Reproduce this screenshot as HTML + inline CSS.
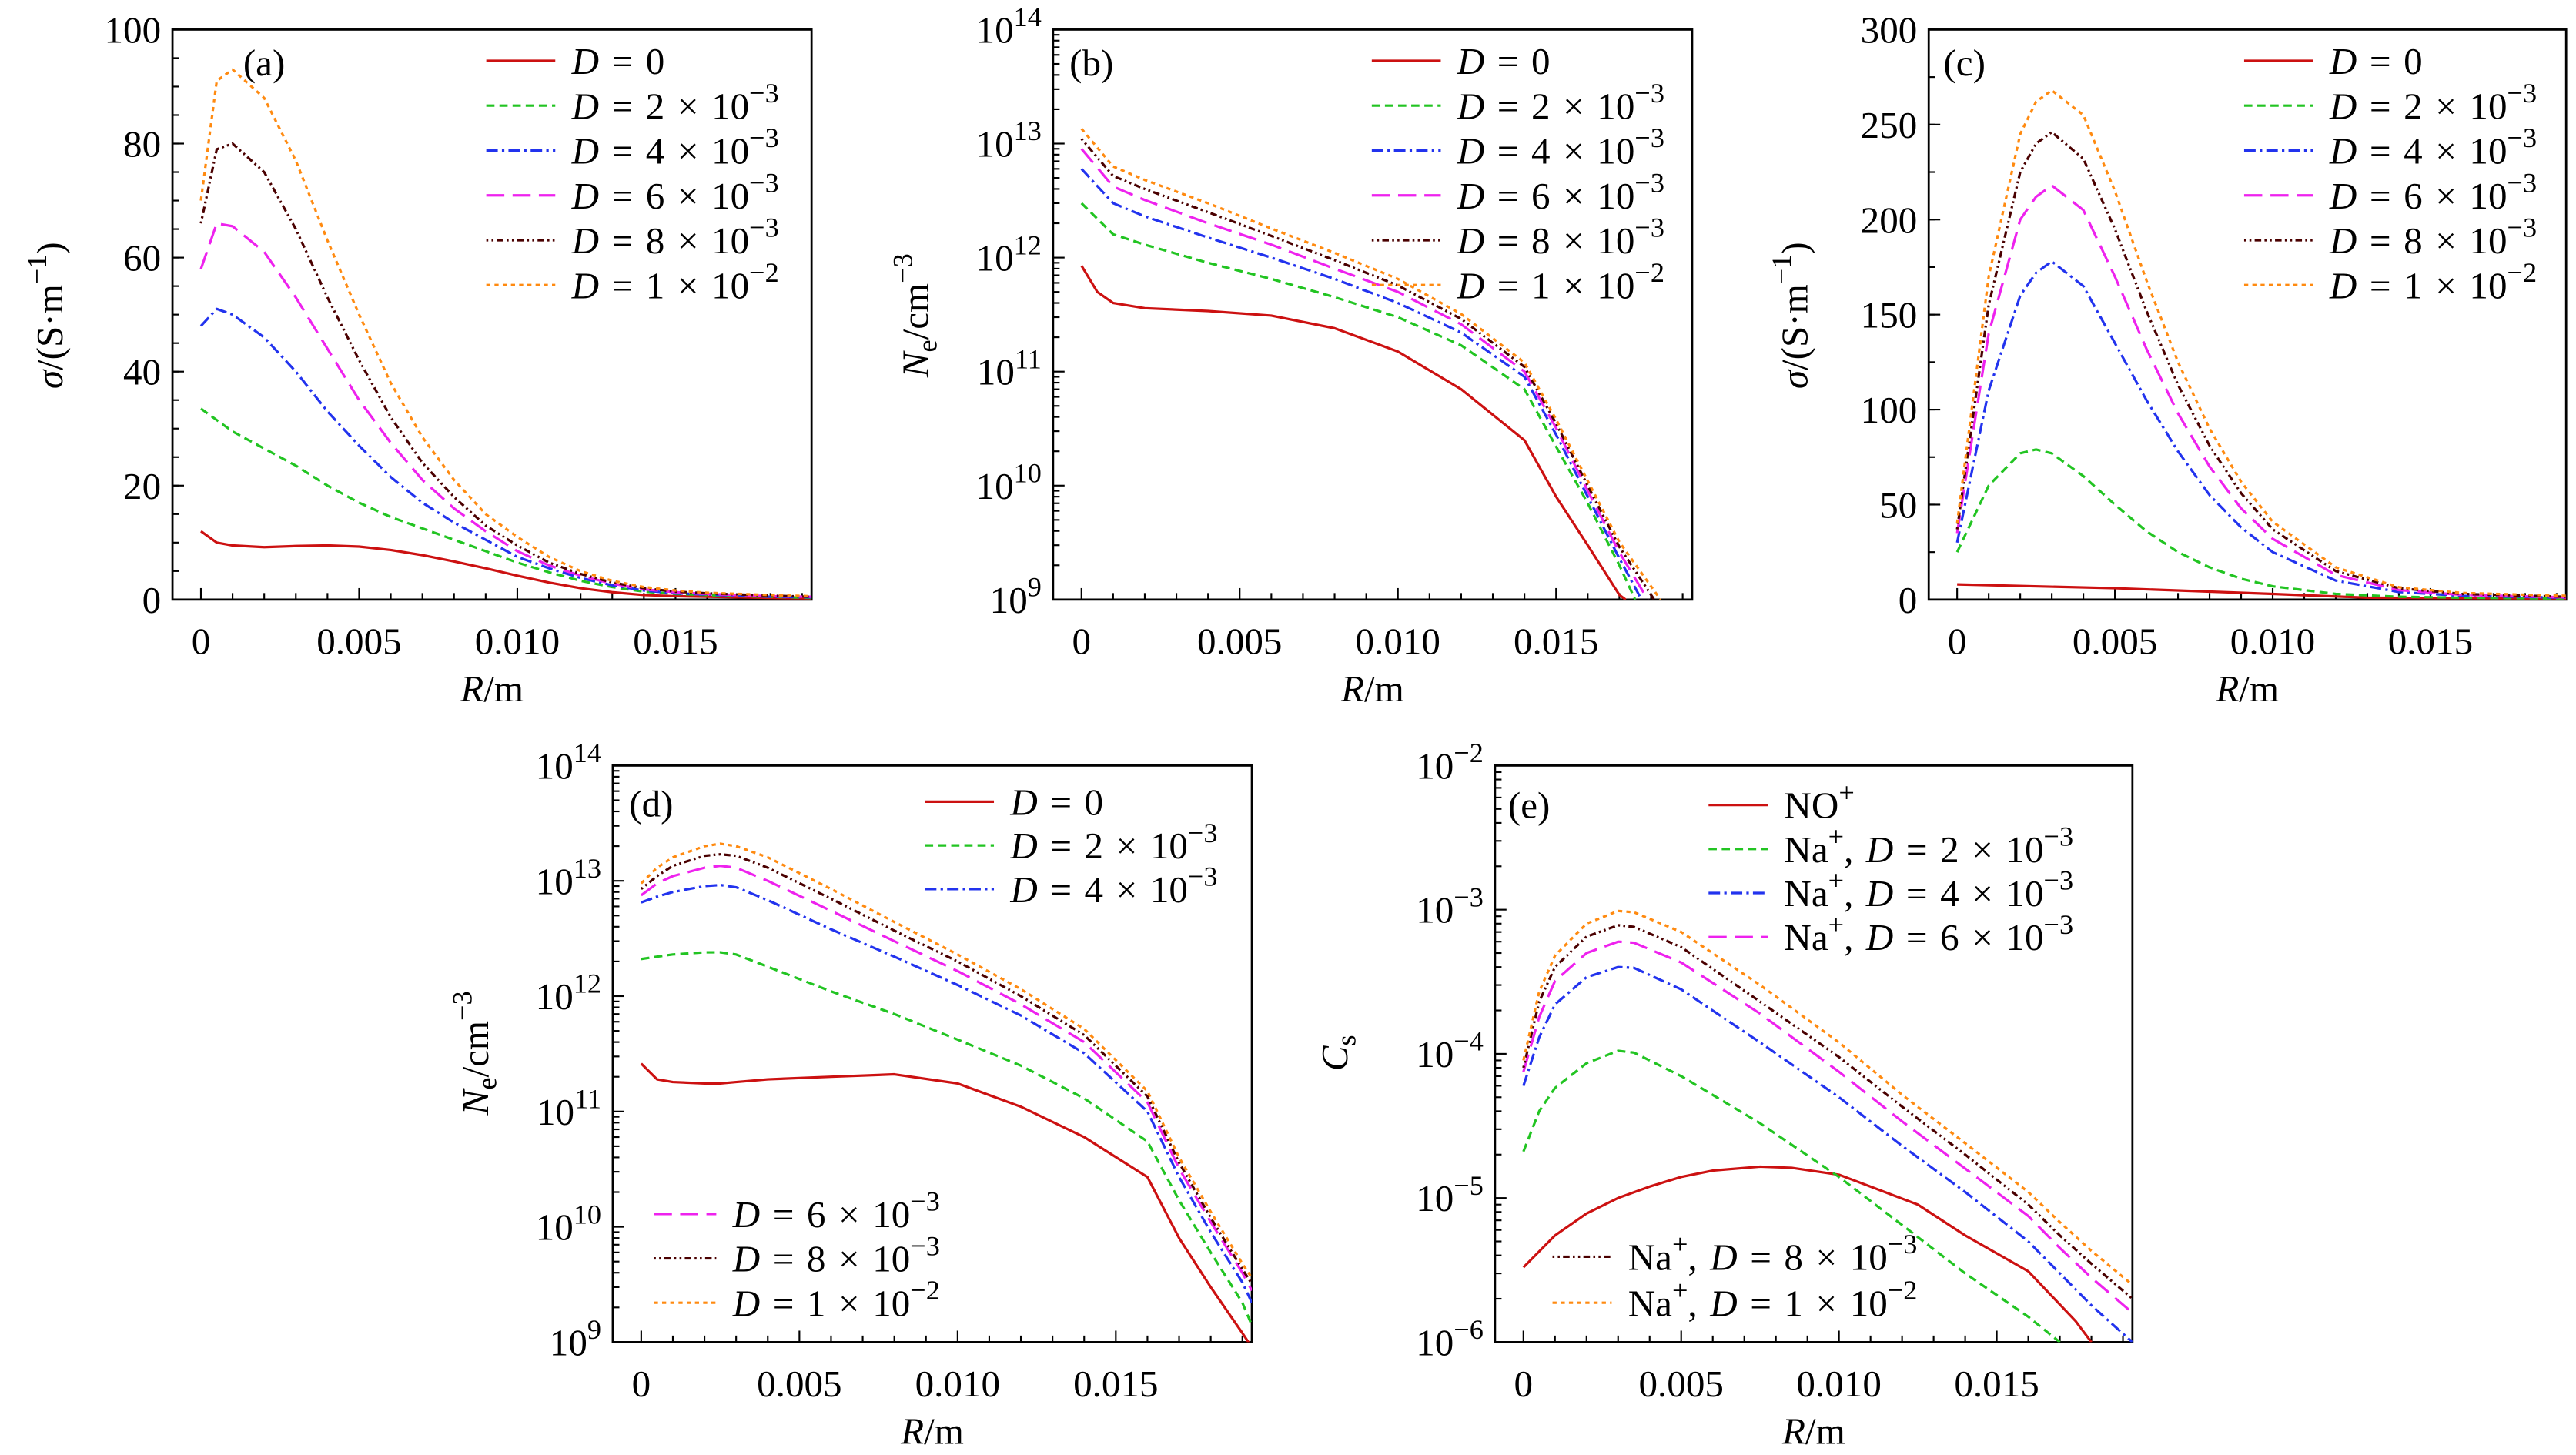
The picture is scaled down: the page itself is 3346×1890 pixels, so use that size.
<!DOCTYPE html>
<html><head><meta charset="utf-8"><style>
html,body{margin:0;padding:0;background:#fff}
svg{display:block}
text{font-family:"Liberation Serif",serif;fill:#000}
</style></head><body>
<svg id="fig" xmlns="http://www.w3.org/2000/svg" width="3346" height="1890" viewBox="0 0 1568 885.7" preserveAspectRatio="none"></svg>
<script>
// ---------- data ----------
const aX=[0,0.0005,0.001,0.002,0.003,0.004,0.005,0.006,0.007,0.008,0.009,0.010,0.011,0.012,0.013,0.014,0.015,0.016,0.017,0.018,0.0193];
const aD0=[12,10,9.5,9.2,9.4,9.5,9.3,8.7,7.8,6.7,5.5,4.2,3.0,2.0,1.3,0.8,0.6,0.5,0.4,0.3,0.2];
const aD2=[33.5,31.5,29.5,26.5,23.5,20,17,14.5,12.5,10.5,8.5,6.5,4.8,3.3,2.2,1.4,1,0.8,0.6,0.5,0.3];
const aD4=[48,51,50,46,40,33,27,21.5,17,13.5,10.5,7.5,5.5,3.8,2.5,1.6,1.1,0.9,0.7,0.5,0.4];
const aD6=[58,66,65.5,61,53,44,35,27.5,21,16,12,8.5,6,4.2,2.8,1.8,1.3,1,0.8,0.6,0.5];
const aD8=[66,79,80,75,65,53,42,32,24,18,13,9.5,6.5,4.5,3,2,1.4,1.1,0.9,0.7,0.5];
const aD10=[70,91,93,88,77,63,50,38,28.5,21,15,11,7.5,5,3.3,2.2,1.6,1.2,1,0.8,0.6];

const bX0=[0,0.0005,0.001,0.002,0.004,0.006,0.008,0.010,0.012,0.014,0.015,0.016,0.017,0.0172];
const bD0=[8.5e11,5e11,4e11,3.6e11,3.4e11,3.1e11,2.4e11,1.5e11,7e10,2.5e10,8e9,3e9,1.1e9,1e9];
const bX=[0,0.001,0.002,0.004,0.006,0.008,0.010,0.012,0.014,0.015,0.016,0.017];
const bD2=[3e12,1.6e12,1.3e12,9e11,6.5e11,4.5e11,3e11,1.7e11,7e10,2.2e10,7e9,2e9];
const bD4=[6e12,3e12,2.3e12,1.5e12,1e12,6.5e11,4e11,2.2e11,9e10,2.8e10,8e9,2.3e9];
const bD6=[9e12,4.2e12,3.2e12,2e12,1.3e12,8e11,5e11,2.6e11,1e11,3.2e10,9e9,2.6e9];
const bD8=[1.1e13,5.2e12,4e12,2.5e12,1.55e12,9.5e11,5.7e11,2.9e11,1.1e11,3.5e10,1e10,2.9e9];
const bD10=[1.35e13,6.3e12,4.8e12,3e12,1.8e12,1.1e12,6.5e11,3.2e11,1.2e11,3.8e10,1.1e10,3.2e9];
const bEndX=[0.0175,0.0177,0.0179,0.0181,0.0183];

const cX0=[0,0.005,0.010,0.013,0.0193];
const cD0=[8,6,3,1,0.5];
const cX=[0,0.001,0.002,0.0025,0.003,0.004,0.005,0.006,0.007,0.008,0.009,0.010,0.012,0.014,0.016,0.0193];
const cD2=[25,60,77,79,77,65,50,36,25,17,11,7,3,1.5,1,0.5];
const cD4=[30,110,160,172,178,165,135,105,78,55,38,25,10,4,2,1];
const cD6=[35,140,200,212,218,205,170,132,98,70,48,32,13,5,2.5,1.2];
const cD8=[37,155,225,240,246,232,195,152,113,81,56,37,15,6,3,1.5];
const cD10=[40,170,245,262,268,255,215,168,125,90,62,41,17,6.5,3.5,2];

const dX=[0,0.0005,0.001,0.002,0.0025,0.003,0.004,0.006,0.008,0.010,0.012,0.014,0.016,0.017,0.018,0.019,0.0193];
const dD0=[2.6e11,1.9e11,1.8e11,1.75e11,1.75e11,1.8e11,1.9e11,2e11,2.1e11,1.75e11,1.1e11,6e10,2.7e10,8e9,3e9,1.2e9,9e8];
const dD2=[2.1e12,2.2e12,2.3e12,2.4e12,2.4e12,2.3e12,1.8e12,1.1e12,7e11,4.2e11,2.5e11,1.3e11,5.5e10,1.7e10,6e9,2.2e9,1.4e9];
const dD4=[6.5e12,7.3e12,8e12,9e12,9.2e12,8.8e12,6.8e12,3.8e12,2.2e12,1.25e12,6.8e11,3.2e11,1e11,2.7e10,9e9,3.3e9,2.2e9];
const dD6=[7.5e12,9.5e12,1.1e13,1.3e13,1.35e13,1.3e13,1e13,5.5e12,3e12,1.65e12,8.5e11,4e11,1.2e11,3.2e10,1.1e10,4e9,2.8e9];
const dD8=[8.5e12,1.1e13,1.35e13,1.65e13,1.7e13,1.65e13,1.3e13,7e12,3.7e12,2e12,1e12,4.6e11,1.35e11,3.6e10,1.2e10,4.3e9,3.2e9];
const dD10=[9.5e12,1.3e13,1.6e13,2e13,2.1e13,2e13,1.6e13,8.5e12,4.4e12,2.3e12,1.15e12,5.2e11,1.5e11,4e10,1.35e10,4.8e9,3.6e9];

const eXno=[0,0.001,0.002,0.003,0.004,0.005,0.006,0.0075,0.0085,0.010,0.011,0.0125,0.014,0.016,0.0175,0.018];
const eNO=[3.3e-6,5.5e-6,7.8e-6,1e-5,1.2e-5,1.4e-5,1.55e-5,1.65e-5,1.62e-5,1.45e-5,1.2e-5,9e-6,5.5e-6,3.1e-6,1.4e-6,1e-6];
const eX2=[0,0.0005,0.001,0.002,0.003,0.0035,0.005,0.0075,0.010,0.012,0.014,0.016,0.017];
const eD2=[2.1e-5,4e-5,5.8e-5,8.6e-5,1.05e-4,1.02e-4,7e-5,3.3e-5,1.4e-5,6.5e-6,3e-6,1.5e-6,1e-6];
const eX=[0,0.0005,0.001,0.002,0.003,0.0035,0.005,0.0075,0.010,0.012,0.014,0.016,0.017,0.018,0.0193];
const eD4=[6e-5,1.3e-4,2.2e-4,3.4e-4,4e-4,3.95e-4,2.8e-4,1.2e-4,5e-5,2.3e-5,1.1e-5,5e-6,3e-6,1.8e-6,1e-6];
const eD6=[7.5e-5,1.8e-4,3.2e-4,5e-4,6e-4,5.9e-4,4.3e-4,1.9e-4,7.5e-5,3.4e-5,1.6e-5,7.5e-6,4.5e-6,2.8e-6,1.6e-6];
const eD8=[8e-5,2.3e-4,4e-4,6.5e-4,7.8e-4,7.6e-4,5.5e-4,2.3e-4,9.5e-5,4.3e-5,2e-5,9e-6,5.5e-6,3.5e-6,2e-6];
const eD10=[9e-5,2.7e-4,4.8e-4,8e-4,9.8e-4,9.6e-4,7e-4,3e-4,1.2e-4,5.2e-5,2.4e-5,1.1e-5,6.8e-6,4.3e-6,2.5e-6];

const xTickVals=[0,0.005,0.010,0.015];
const xTickLabels=["0","0.005","0.010","0.015"];
const legendD=["0","2","4","6","8","1"];
const legendExp=["","−3","−3","−3","−3","−2"];

// ---------- styles ----------
const ST=[
 {c:"#cc1111",d:""},
 {c:"#22c422",d:"5,3"},
 {c:"#2233ee",d:"7,2.5,1.5,2.5"},
 {c:"#ee22ee",d:"11,5"},
 {c:"#4a0000",d:"1.2,2,1.2,2,4,2"},
 {c:"#ff8a10",d:"2.5,2.5"}
];
const NS="http://www.w3.org/2000/svg";
const svg=document.getElementById('fig');
function el(tag,attrs,parent){const e=document.createElementNS(NS,tag);for(const k in attrs)e.setAttribute(k,attrs[k]);(parent||svg).appendChild(e);return e;}

function makePanel(id,L,R,T,B,xmax,ymin,ymax,log){
  const g=el('g',{});
  
  
  const x0=L+17.3;
  const sx=v=>x0+v*(R-L-17.3)/(xmax);
  let sy;
  if(log){const a=Math.log10(ymin),b=Math.log10(ymax);sy=v=>B-(Math.log10(v)-a)/(b-a)*(B-T);}
  else sy=v=>B-(v-ymin)/(ymax-ymin)*(B-T);
  const cp=el('clipPath',{id:'clip-'+id},g);el('rect',{x:L,y:T,width:R-L,height:B-T},cp);
  return {g,sx,sy,L,R,T,B,id,log,ymin,ymax};
}
function axes(P,yTicks,yMinor,yLabelFn){
  const {g,sx,sy,L,R,T,B}=P;
  for(let i=0;i<=19;i++){const v=i*0.001;const x=sx(v);if(x>R)break;const major=i%5===0;
    el('line',{x1:x,x2:x,y1:B,y2:B-(major?7:4),stroke:'#000','stroke-width':1},g);}
  xTickVals.forEach((v,i)=>{const t=el('text',{x:sx(v),y:B+33,'font-size':23,'text-anchor':'middle'},g);t.textContent=xTickLabels[i];
    });
  yMinor.forEach(v=>{const y=sy(v);el('line',{x1:L,x2:L+4,y1:y,y2:y,stroke:'#000','stroke-width':1},g);});
  yTicks.forEach(v=>{const y=sy(v);el('line',{x1:L,x2:L+7,y1:y,y2:y,stroke:'#000','stroke-width':1},g);
    const t=el('text',{x:L-7,y:y+8,'font-size':23,'text-anchor':'end'},g);yLabelFn(t,v);
    });
  const f=el('rect',{x:L,y:T,width:R-L,height:B-T,fill:'none',stroke:'#000','stroke-width':1.3},g);
  
  const xl=el('text',{x:(L+R)/2,y:B+62,'font-size':23,'text-anchor':'middle'},g);
  xl.innerHTML='<tspan font-style="italic">R</tspan>/m';
  
}
function linLabel(t,v){t.textContent=String(v);}
function powLabel(t,v){const e=Math.round(Math.log10(v));t.innerHTML='10<tspan dy="-10" font-size="17">'+(e<0?'−'+(-e):e)+'</tspan>';}
function logTicks(a,b){const M=[],m=[];for(let e=a;e<=b;e++){M.push(Math.pow(10,e));if(e<b)for(let k=2;k<=9;k++)m.push(k*Math.pow(10,e));}return [M,m];}
function series(P,xs,ys,k,name){
  const pts=xs.map((x,i)=>P.sx(x).toFixed(2)+','+P.sy(Math.max(ys[i],P.log?P.ymin*0.5:-10)).toFixed(2)).join(' ');
  const p=el('polyline',{points:pts,fill:'none',stroke:ST[k].c,'stroke-width':1.5,'stroke-dasharray':ST[k].d,'clip-path':'url(#clip-'+P.id+')','stroke-linejoin':'round'},P.g);
  
  
}
function legend(P,x,y,k,html,len){
  const g=el('g',{},P.g);
  
  
  el('line',{x1:x,x2:x+(len||42),y1:y,y2:y,stroke:ST[k].c,'stroke-width':1.5,'stroke-dasharray':ST[k].d},g);
  const t=el('text',{x:x+(len||42)+10,y:y+8,'font-size':23,'word-spacing':'2'},g);t.innerHTML=html;
}
function dHtml(i){return '<tspan font-style="italic">D</tspan> = '+legendD[i]+(legendExp[i]?' × 10<tspan dy="-10" font-size="17">'+legendExp[i]+'</tspan>':'');}
function panelLabel(P,x,y,s){const t=el('text',{x:x,y:y,'font-size':23},P.g);t.textContent=s;}
function yTitle(P,x,y,html){const t=el('text',{x:0,y:0,'font-size':23,'text-anchor':'middle',transform:'translate('+x+','+y+') rotate(-90)'},P.g);t.innerHTML=html;}
const names=['d-0','d-2e-3','d-4e-3','d-6e-3','d-8e-3','d-1e-2'];

// (a)
let P=makePanel('a',105,494,18,365,0.0193,0,100,false);
let mn=[];for(let v=0;v<=100;v+=5)mn.push(v);
axes(P,[0,20,40,60,80,100],mn,linLabel);
[aD0,aD2,aD4,aD6,aD8,aD10].forEach((ys,k)=>series(P,aX,ys,k,'line-a-'+names[k]));
for(let i=0;i<6;i++)legend(P,296,37+i*27.3,i,dHtml(i));
panelLabel(P,148,46,'(a)');
yTitle(P,38,192,'<tspan font-style="italic">σ</tspan>/(S·m<tspan dy="-10" font-size="17">−1</tspan><tspan dy="10">)</tspan>');

// (b)
P=makePanel('b',641,1030,18,365,0.0193,1e9,1e14,true);
let lt=logTicks(9,14);axes(P,lt[0],lt[1],powLabel);
series(P,bX0,bD0,0,'line-b-d-0');
[bD2,bD4,bD6,bD8,bD10].forEach((ys,k)=>series(P,bX.concat([bEndX[k]]),ys.concat([1e9]),k+1,'line-b-'+names[k+1]));
for(let i=0;i<6;i++)legend(P,835,37+i*27.3,i,dHtml(i));
panelLabel(P,651,46,'(b)');
yTitle(P,565,192,'<tspan font-style="italic">N</tspan><tspan dy="5" font-size="17">e</tspan><tspan dy="-5">/cm</tspan><tspan dy="-10" font-size="17">−3</tspan>');

// (c)
P=makePanel('c',1174,1562,18,365,0.0193,0,300,false);
mn=[];for(let v=0;v<=300;v+=25)mn.push(v);
axes(P,[0,50,100,150,200,250,300],mn,linLabel);
series(P,cX0,cD0,0,'line-c-d-0');
[cD2,cD4,cD6,cD8,cD10].forEach((ys,k)=>series(P,cX,ys,k+1,'line-c-'+names[k+1]));
for(let i=0;i<6;i++)legend(P,1366,37+i*27.3,i,dHtml(i));
panelLabel(P,1183,46,'(c)');
yTitle(P,1100,192,'<tspan font-style="italic">σ</tspan>/(S·m<tspan dy="-10" font-size="17">−1</tspan><tspan dy="10">)</tspan>');

// (d)
P=makePanel('d',373,762,466,817,0.0193,1e9,1e14,true);
lt=logTicks(9,14);axes(P,lt[0],lt[1],powLabel);
[dD0,dD2,dD4,dD6,dD8,dD10].forEach((ys,k)=>series(P,dX,ys,k,'line-d-'+names[k]));
for(let i=0;i<3;i++)legend(P,563,488+i*26.6,i,dHtml(i));
for(let i=3;i<6;i++)legend(P,398,739+(i-3)*27,i,dHtml(i),38);
panelLabel(P,383,497,'(d)');
yTitle(P,297,641,'<tspan font-style="italic">N</tspan><tspan dy="5" font-size="17">e</tspan><tspan dy="-5">/cm</tspan><tspan dy="-10" font-size="17">−3</tspan>');

// (e)
P=makePanel('e',910,1298,466,817,0.0193,1e-6,1e-2,true);
lt=logTicks(-6,-2);axes(P,lt[0],lt[1],powLabel);
series(P,eXno,eNO,0,'line-e-no-plus');
series(P,eX2,eD2,1,'line-e-na-d-2e-3');
[eD4,eD6,eD8,eD10].forEach((ys,k)=>series(P,eX,ys,k+2,'line-e-na-'+names[k+2]));
function naHtml(i){return 'Na<tspan dy="-10" font-size="17">+</tspan><tspan dy="10">, </tspan>'+dHtml(i);}
legend(P,1040,490,0,'NO<tspan dy="-10" font-size="17">+</tspan>',36);
for(let i=1;i<4;i++)legend(P,1040,490+i*26.8,i,naHtml(i),36);
for(let i=4;i<6;i++)legend(P,945,765+(i-4)*28,i,naHtml(i),36);
panelLabel(P,918,498,'(e)');
yTitle(P,820,641,'<tspan font-style="italic">C</tspan><tspan dy="5" font-size="17">s</tspan>');
</script>
</body></html>
